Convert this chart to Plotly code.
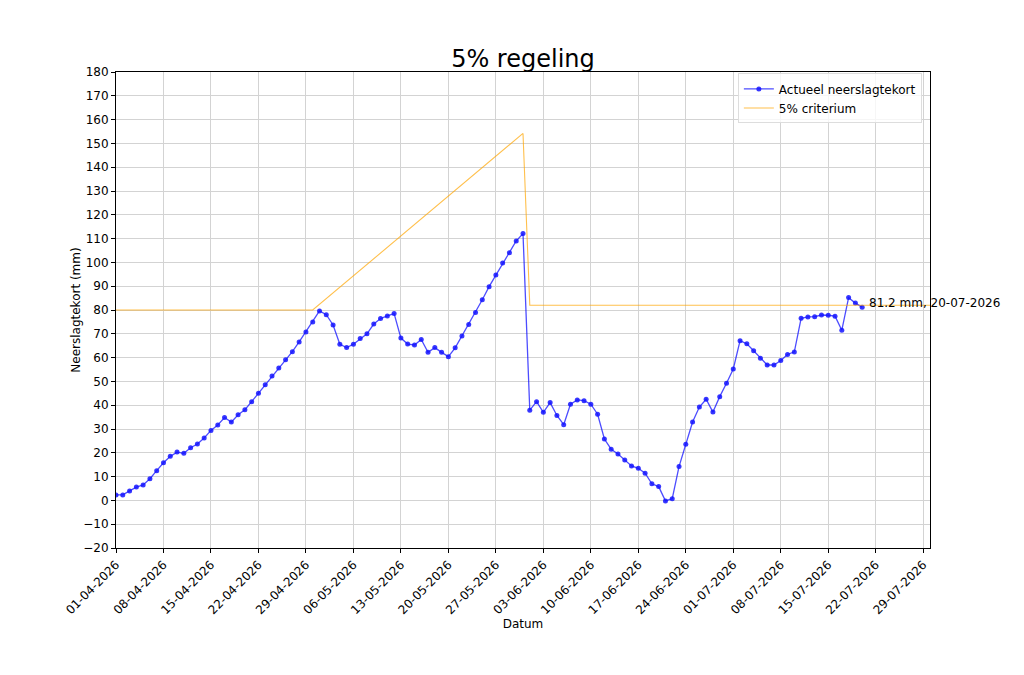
import pandas as pd
import plotly.graph_objects as go

# ---- data ----
start_date = "2026-04-01"
neerslagtekort = [
    2.3, 2.3, 4.0, 5.6, 6.5, 9.1, 12.5, 15.8, 18.5, 20.3,
    19.8, 22.1, 23.7, 26.2, 29.4, 31.7, 34.8, 32.9, 36.0, 38.1,
    41.5, 45.0, 48.6, 52.3, 55.6, 59.1, 62.5, 66.6, 70.8, 75.0,
    79.6, 78.0, 73.7, 65.6, 64.2, 65.6, 68.0, 70.0, 74.1, 76.4,
    77.5, 78.5, 68.2, 65.7, 65.3, 67.6, 62.2, 64.2, 62.2, 60.4,
    64.1, 69.1, 73.9, 78.9, 84.3, 89.8, 94.7, 99.7, 104.1, 109.0,
    112.1, 37.9, 41.5, 37.0, 41.1, 35.7, 31.8, 40.4, 42.2, 41.9,
    40.4, 36.2, 25.8, 21.5, 19.5, 17.0, 14.5, 13.5, 11.4, 7.0,
    5.8, -0.2, 0.7, 14.2, 23.6, 32.9, 39.2, 42.5, 37.1, 43.6,
    49.2, 55.2, 67.1, 65.8, 62.9, 59.7, 56.9, 56.9, 58.8, 61.3,
    62.4, 76.5, 77.1, 77.2, 77.9, 77.8, 77.4, 71.5, 85.2, 82.9,
    81.2,
]
criterium_dates = ["2026-04-01", "2026-04-30", "2026-05-31", "2026-06-01", "2026-07-30"]
criterium_values = [80.0, 80.0, 154.2, 82.0, 82.0]

tick_dates = ["2026-04-01", "2026-04-08", "2026-04-15", "2026-04-22", "2026-04-29",
              "2026-05-06", "2026-05-13", "2026-05-20", "2026-05-27", "2026-06-03",
              "2026-06-10", "2026-06-17", "2026-06-24", "2026-07-01", "2026-07-08",
              "2026-07-15", "2026-07-22", "2026-07-29"]
tick_labels = ["01-04-2026", "08-04-2026", "15-04-2026", "22-04-2026", "29-04-2026",
               "06-05-2026", "13-05-2026", "20-05-2026", "27-05-2026", "03-06-2026",
               "10-06-2026", "17-06-2026", "24-06-2026", "01-07-2026", "08-07-2026",
               "15-07-2026", "22-07-2026", "29-07-2026"]
y_ticks = list(range(-20, 181, 10))

dates = pd.date_range(start_date, periods=len(neerslagtekort), freq="D")

FONT = "DejaVu Sans"
FS = 12

fig = go.Figure()
fig.add_trace(go.Scatter(
    x=dates, y=neerslagtekort, mode="lines+markers",
    name="Actueel neerslagtekort",
    line=dict(color="rgba(0,0,255,0.7)", width=1.3),
    marker=dict(color="rgba(20,20,255,0.85)", size=5),
))
fig.add_trace(go.Scatter(
    x=pd.to_datetime(criterium_dates), y=criterium_values, mode="lines",
    name="5% criterium",
    line=dict(color="rgba(255,165,0,0.7)", width=1.1),
))

last_date = dates[-1]
last_val = neerslagtekort[-1]
fig.add_annotation(
    x=last_date, y=last_val, xref="x", yref="y",
    text=f"{last_val} mm, {last_date.strftime('%d-%m-%Y')}",
    showarrow=False, xanchor="left", yanchor="middle",
    xshift=5, yshift=4, font=dict(family=FONT, size=FS, color="black"),
)

axis_common = dict(
    showline=True, mirror=True, linecolor="black", linewidth=1,
    showgrid=True, gridcolor="#d3d3d3", gridwidth=1,
    ticks="outside", ticklen=4, tickcolor="black",
    tickfont=dict(family=FONT, size=FS, color="black"),
    zeroline=False,
)

fig.update_layout(
    width=1024, height=675,
    paper_bgcolor="white", plot_bgcolor="white",
    margin=dict(l=116, r=94, t=72, b=127),
    title=dict(text="5% regeling", x=0.5107, xanchor="center", y=0.913, yanchor="middle",
               font=dict(family=FONT, size=24, color="black")),
    font=dict(family=FONT, size=FS, color="black"),
    showlegend=True,
    legend=dict(x=0.99, y=0.997, xanchor="right", yanchor="top",
                bgcolor="rgba(255,255,255,0.8)", bordercolor="#dddddd", borderwidth=1,
                font=dict(family=FONT, size=FS, color="black"),
                tracegroupgap=0, itemwidth=30),
)
fig.update_xaxes(
    **axis_common,
    type="date", range=["2026-04-01", "2026-07-30"],
    tickmode="array", tickvals=pd.to_datetime(tick_dates), ticktext=tick_labels,
    tickangle=-45,
    title=dict(text="Datum", font=dict(family=FONT, size=FS, color="black"), standoff=0),
)
fig.update_yaxes(
    **axis_common,
    range=[-20, 180], tickmode="array", tickvals=y_ticks,
    title=dict(text="Neerslagtekort (mm)", font=dict(family=FONT, size=FS, color="black"), standoff=0),
)

fig.write_html("out.html")
